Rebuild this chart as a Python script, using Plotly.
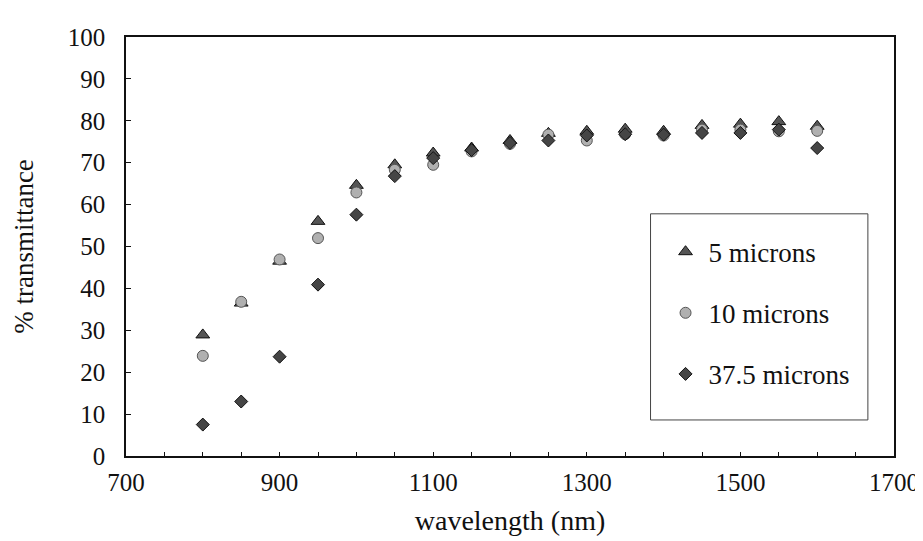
import plotly.graph_objects as go

wavelength = [800, 850, 900, 950, 1000, 1050, 1100, 1150, 1200, 1250, 1300,
              1350, 1400, 1450, 1500, 1550, 1600]
t_5um = [28.9, 36.5, 46.5, 56.0, 64.6, 69.5, 72.3, 73.5, 75.3, 77.0, 77.5,
         78.0, 77.5, 78.9, 79.2, 79.8, 78.7]
t_10um = [23.9, 36.8, 46.9, 52.0, 62.9, 68.3, 69.5, 72.7, 74.5, 76.7, 75.3,
          76.8, 76.5, 77.9, 77.9, 77.5, 77.6]
t_37um = [7.5, 13.0, 23.7, 40.9, 57.6, 66.8, 71.1, 73.0, 74.7, 75.3, 76.5,
          76.8, 76.7, 77.1, 77.1, 77.9, 73.5]

series_names = ["5 microns", "10 microns", "37.5 microns"]
x_tickvals = [700, 900, 1100, 1300, 1500, 1700]
y_tickvals = [0, 10, 20, 30, 40, 50, 60, 70, 80, 90, 100]

FONT = "Liberation Serif"
INK = "#111111"

fig = go.Figure()
fig.add_trace(go.Scatter(
    x=wavelength, y=t_5um, mode="markers", name=series_names[0],
    legendgroup="a",
    marker=dict(symbol="triangle-up", size=12, color="#555555",
                line=dict(color=INK, width=1))))
fig.add_trace(go.Scatter(
    x=wavelength, y=t_10um, mode="markers", name=series_names[1],
    legendgroup="b",
    marker=dict(symbol="circle", size=11, color="#b0b0b0",
                line=dict(color="#555555", width=1))))
fig.add_trace(go.Scatter(
    x=wavelength, y=t_37um, mode="markers", name=series_names[2],
    legendgroup="c",
    marker=dict(symbol="diamond", size=10, color="#454545",
                line=dict(color=INK, width=1))))

# legend frame (drawn as a shape so its size can match the reference)
fig.add_shape(type="rect", xref="paper", yref="paper",
              x0=0.683, x1=0.966, y0=0.086, y1=0.578,
              line=dict(color="#444444", width=1), fillcolor="rgba(0,0,0,0)",
              layer="above")

fig.update_layout(
    width=923, height=541,
    margin=dict(l=118, r=29, t=29, b=93),
    paper_bgcolor="white", plot_bgcolor="white",
    font=dict(family=FONT, size=25, color=INK),
    showlegend=True,
    legend=dict(
        x=0.683, y=0.545, xanchor="left", yanchor="top",
        borderwidth=0, bgcolor="rgba(0,0,0,0)",
        font=dict(family=FONT, size=27, color=INK),
        tracegroupgap=23, traceorder="grouped",
        itemwidth=36, indentation=12,
    ),
    xaxis=dict(
        range=[700, 1700], tickvals=x_tickvals,
        ticks="inside", ticklen=4, tickcolor=INK,
        minor=dict(dtick=50, tick0=700, ticks="inside", ticklen=4, tickcolor=INK),
        showgrid=False, zeroline=False,
        showline=True, linecolor=INK, linewidth=1.5, mirror=True,
        title=dict(text="wavelength (nm)", font=dict(family=FONT, size=28), standoff=16),
        tickfont=dict(family=FONT, size=25), ticklabelstandoff=3,
        ticklabeloverflow="allow",
    ),
    yaxis=dict(
        range=[0, 100], tickvals=y_tickvals,
        ticks="inside", ticklen=5, tickcolor=INK,
        showgrid=False, zeroline=False,
        showline=True, linecolor=INK, linewidth=1.5, mirror=True,
        title=dict(text="% transmittance", font=dict(family=FONT, size=27), standoff=26),
        tickfont=dict(family=FONT, size=25), ticklabelstandoff=14,
    ),
)

fig.write_html("out.html")
